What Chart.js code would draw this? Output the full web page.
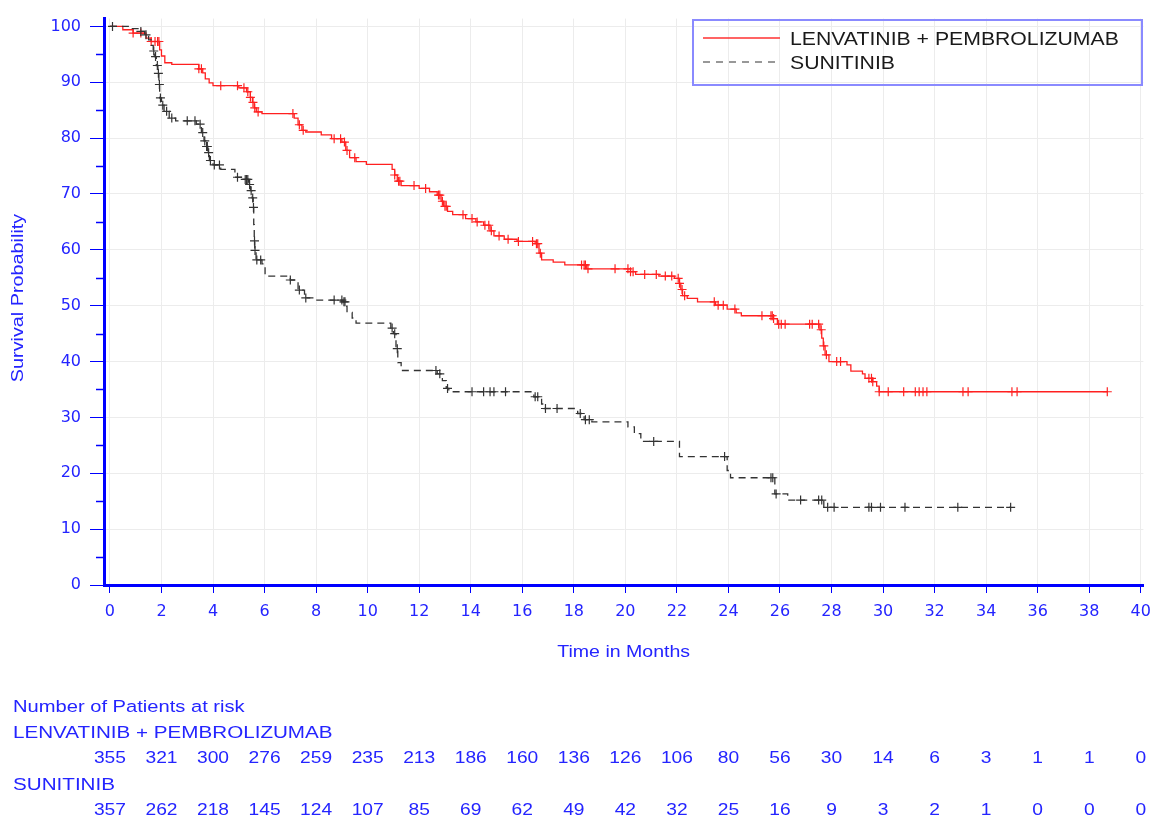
<!DOCTYPE html>
<html>
<head>
<meta charset="utf-8">
<script src="https://cdn.jsdelivr.net/npm/chart.js@4.4.0/dist/chart.umd.min.js"></script>
<style>
  html, body { margin: 0; padding: 0; background: #fff; }
  .chart-container { position: relative; width: 1160px; height: 820px; }
</style>
</head>
<body>
<div class="chart-container"><canvas id="km"></canvas></div>
<script>
// axis ticks
const xTickValues = [0, 2, 4, 6, 8, 10, 12, 14, 16, 18, 20, 22, 24, 26, 28, 30, 32, 34, 36, 38, 40];
const yTickValues = [0, 5, 10, 15, 20, 25, 30, 35, 40, 45, 50, 55, 60, 65, 70, 75, 80, 85, 90, 95, 100];

// LENVATINIB + PEMBROLIZUMAB: event times (months) and survival (%) after each step
const lenvTimes = [0, 0.5, 0.9, 1.4, 1.6, 1.93, 2.0, 2.13, 2.4, 3.45, 3.6, 3.7, 3.85, 4.0, 5.0, 5.3, 5.45, 5.53, 5.6, 5.68,
  5.9, 7.15, 7.3, 7.45, 7.6, 8.2, 8.6, 9.0, 9.15, 9.3, 9.55, 9.95, 10.95, 11.05, 11.15, 11.3, 12.0, 12.4, 12.7, 12.85,
  12.95, 13.1, 13.3, 13.8, 14.2, 14.5, 14.75, 14.9, 15.3, 15.8, 16.5, 16.65, 16.75, 17.2, 17.65, 18.5, 20.2, 20.4, 21.3, 21.9,
  22.1, 22.15, 22.22, 22.4, 22.8, 23.5, 23.95, 24.3, 24.5, 25.75, 25.9, 27.55, 27.62, 27.68, 27.75, 27.9, 28.6, 28.75, 29.2, 29.3,
  29.6, 29.75, 29.85, 38.7];
const lenvSurv = [100, 99.4, 98.8, 97.9, 97.3, 95.8, 94.7, 93.5, 93.2, 92.4, 91.7, 90.6, 89.9, 89.4, 89.0, 88.3, 87.3, 86.4, 85.4, 84.7,
  84.4, 83.6, 82.4, 81.4, 81.1, 80.6, 79.9, 79.3, 77.8, 76.5, 75.8, 75.3, 74.4, 73.4, 72.3, 71.5, 71.0, 70.4, 69.8, 68.7,
  67.8, 66.9, 66.3, 65.6, 65.0, 64.4, 63.4, 62.5, 61.9, 61.5, 61.1, 59.4, 58.2, 57.8, 57.3, 56.6, 56.1, 55.6, 55.3, 54.9,
  54.0, 52.9, 51.8, 51.3, 50.7, 50.1, 49.4, 48.7, 48.2, 47.7, 46.7, 45.7, 44.2, 42.8, 41.2, 40.0, 39.4, 38.3, 37.8, 37.0,
  36.4, 35.6, 34.6, 34.6];
const lenvCensor = [0.9, 1.2, 1.6, 1.75, 1.85, 1.9, 3.45, 3.55, 4.3, 4.95, 5.2, 5.35, 5.45, 5.55, 5.62, 5.75, 7.1, 7.35, 7.5, 8.7,
  8.95, 9.1, 9.2, 9.5, 11.05, 11.2, 11.25, 11.8, 12.25, 12.75, 12.8, 12.9, 13.0, 13.05, 13.7, 14.05, 14.25, 14.55, 14.7, 14.8,
  15.1, 15.45, 15.85, 16.4, 16.55, 16.6, 16.7, 18.3, 18.4, 18.45, 18.55, 19.6, 20.1, 20.2, 20.3, 20.75, 21.2, 21.55, 21.8, 22.05,
  22.1, 22.2, 22.3, 23.45, 23.6, 23.8, 24.25, 25.3, 25.65, 25.7, 25.75, 25.95, 26.05, 26.2, 27.15, 27.25, 27.5, 27.6, 27.7, 27.8,
  28.2, 28.35, 29.45, 29.55, 29.6, 29.85, 30.2, 30.8, 31.25, 31.4, 31.55, 31.7, 33.1, 33.3, 35.0, 35.2, 38.7];

// SUNITINIB
const sunTimes = [0, 0.8, 1.15, 1.35, 1.5, 1.6, 1.68, 1.74, 1.8, 1.86, 1.9, 1.93, 2.0, 2.1, 2.3, 2.55, 3.35, 3.55, 3.65, 3.72,
  3.8, 3.86, 4.0, 4.3, 4.85, 5.25, 5.38, 5.45, 5.52, 5.56, 5.58, 5.6, 5.62, 5.67, 5.9, 6.02, 7.0, 7.3, 7.55, 7.95,
  9.05, 9.15, 9.2, 9.4, 9.55, 10.9, 11.0, 11.1, 11.17, 11.3, 12.7, 12.9, 13.05, 13.15, 16.45, 16.75, 16.85, 18.15, 18.4, 18.7,
  20.1, 20.35, 20.6, 22.1, 23.95, 24.08, 25.8, 26.3, 27.7, 34.95];
const sunSurv = [100, 99.6, 99.1, 98.5, 97.6, 96.6, 95.6, 94.6, 93.0, 91.6, 89.6, 87.2, 85.9, 84.8, 83.6, 83.1, 82.5, 81.0, 79.5, 78.5,
  77.4, 76.0, 75.2, 74.4, 73.0, 72.6, 71.7, 70.6, 69.3, 67.6, 64.5, 61.6, 59.9, 58.2, 57.5, 55.3, 54.6, 52.8, 51.4, 51.0,
  50.7, 49.9, 48.8, 47.8, 46.9, 46.0, 45.0, 42.3, 39.8, 38.4, 37.8, 36.6, 35.2, 34.6, 33.7, 32.4, 31.6, 30.7, 29.6, 29.2,
  28.3, 27.1, 25.7, 23.0, 20.5, 19.2, 16.3, 15.2, 13.9, 13.9];
const sunCensor = [0.1, 1.2, 1.4, 1.7, 1.77, 1.84, 1.88, 1.92, 1.96, 2.05, 2.2, 2.4, 3.0, 3.3, 3.5, 3.6, 3.68, 3.75, 3.78, 3.83,
  3.9, 4.05, 4.25, 4.95, 5.25, 5.3, 5.35, 5.42, 5.48, 5.54, 5.57, 5.61, 5.63, 5.7, 5.85, 7.0, 7.35, 7.6, 8.7, 9.0,
  9.08, 9.12, 10.95, 11.05, 11.15, 12.65, 12.8, 13.1, 14.05, 14.5, 14.75, 14.9, 15.35, 16.5, 16.6, 16.9, 17.35, 18.25, 18.45, 18.6,
  21.1, 23.85, 25.65, 25.72, 25.85, 26.8, 27.5, 27.62, 27.85, 28.1, 29.45, 29.55, 29.9, 30.85, 32.9, 34.95];

// number of patients at risk
const riskTimes = [0, 2, 4, 6, 8, 10, 12, 14, 16, 18, 20, 22, 24, 26, 28, 30, 32, 34, 36, 38, 40];
const lenvAtRisk = [355, 321, 300, 276, 259, 235, 213, 186, 160, 136, 126, 106, 80, 56, 30, 14, 6, 3, 1, 1, 0];
const sunAtRisk = [357, 262, 218, 145, 124, 107, 85, 69, 62, 49, 42, 32, 25, 16, 9, 3, 2, 1, 0, 0, 0];

const lenvLabel = "LENVATINIB + PEMBROLIZUMAB";
const sunLabel = "SUNITINIB";

const BLUE = "#0000ff";
const TEXT_BLUE = "#2424ff";
const TICK_FONT = '"DejaVu Sans", Verdana, sans-serif';
const LABEL_FONT = '"Liberation Sans", Arial, sans-serif';
const STRETCH = 1.2; // labels are set a little wide

function survivalAt(times, surv, t) {
  let v = surv[0];
  for (let i = 0; i < times.length; i++) {
    if (times[i] <= t) v = surv[i];
    else break;
  }
  return v;
}

function stepPoints(times, surv) {
  return times.map((t, i) => ({ x: t, y: surv[i] }));
}

function censorPoints(censor, times, surv) {
  return censor.map((t) => ({ x: t, y: survivalAt(times, surv, t) }));
}

// draws text widened horizontally by STRETCH
function wideText(ctx, text, x, y, align, size) {
  ctx.save();
  ctx.font = size + "px " + LABEL_FONT;
  ctx.textBaseline = "middle";
  ctx.textAlign = "left";
  const w = ctx.measureText(text).width * STRETCH;
  const left = align === "center" ? x - w / 2 : align === "right" ? x - w : x;
  ctx.translate(left, y);
  ctx.scale(STRETCH, 1);
  ctx.fillText(text, 0, 0);
  ctx.restore();
}

// minor ticks, axis titles, risk table and legend box
const kmExtras = {
  id: "kmExtras",
  afterDraw(chart) {
    const ctx = chart.ctx;
    const xs = chart.scales.x;
    const ys = chart.scales.y;
    const area = chart.chartArea;
    ctx.save();

    ctx.strokeStyle = BLUE;
    ctx.lineWidth = 1.5;
    yTickValues.forEach((v) => {
      if (v % 10 === 0) return;
      const py = Math.round(ys.getPixelForValue(v)) + 0.5;
      ctx.beginPath();
      ctx.moveTo(area.left - 8, py);
      ctx.lineTo(area.left, py);
      ctx.stroke();
    });

    ctx.fillStyle = TEXT_BLUE;

    ctx.save();
    ctx.translate(18, 298);
    ctx.rotate(-Math.PI / 2);
    wideText(ctx, "Survival Probability", 0, 0, "center", 16.5);
    ctx.restore();

    wideText(ctx, "Time in Months", (area.left + area.right) / 2, 653, "center", 16.3);

    wideText(ctx, "Number of Patients at risk", 13, 707, "left", 16.8);
    wideText(ctx, lenvLabel, 13, 733, "left", 17.2);
    wideText(ctx, sunLabel, 13, 785, "left", 17.2);

    riskTimes.forEach((t, i) => {
      const px = xs.getPixelForValue(t);
      wideText(ctx, String(lenvAtRisk[i]), px, 759, "center", 16);
      wideText(ctx, String(sunAtRisk[i]), px, 811, "center", 16);
    });

    // legend
    ctx.strokeStyle = "#8a8aff";
    ctx.lineWidth = 2;
    ctx.strokeRect(693, 20, 449, 65);

    ctx.lineWidth = 1.5;
    ctx.strokeStyle = "#ff3030";
    ctx.beginPath();
    ctx.moveTo(703, 38);
    ctx.lineTo(780, 38);
    ctx.stroke();

    ctx.strokeStyle = "#777";
    ctx.setLineDash([7, 6]);
    ctx.beginPath();
    ctx.moveTo(703, 62);
    ctx.lineTo(780, 62);
    ctx.stroke();
    ctx.setLineDash([]);

    ctx.fillStyle = "#1a1a1a";
    wideText(ctx, lenvLabel, 790, 40, "left", 17.7);
    wideText(ctx, sunLabel, 790, 64, "left", 17.7);

    ctx.restore();
  },
};

new Chart(document.getElementById("km"), {
  type: "line",
  data: {
    datasets: [
      {
        label: sunLabel,
        data: stepPoints(sunTimes, sunSurv),
        stepped: "before",
        borderColor: "#333",
        borderWidth: 1.3,
        borderDash: [7, 5],
        pointRadius: 0,
        fill: false,
      },
      {
        label: sunLabel + " censored",
        data: censorPoints(sunCensor, sunTimes, sunSurv),
        showLine: false,
        pointStyle: "cross",
        pointRadius: 4.5,
        pointBorderWidth: 1.2,
        pointBorderColor: "#333",
      },
      {
        label: lenvLabel,
        data: stepPoints(lenvTimes, lenvSurv),
        stepped: "before",
        borderColor: "#ff2020",
        borderWidth: 1.3,
        pointRadius: 0,
        fill: false,
      },
      {
        label: lenvLabel + " censored",
        data: censorPoints(lenvCensor, lenvTimes, lenvSurv),
        showLine: false,
        pointStyle: "cross",
        pointRadius: 4.5,
        pointBorderWidth: 1.2,
        pointBorderColor: "#ff2020",
      },
    ],
  },
  options: {
    responsive: true,
    maintainAspectRatio: false,
    animation: false,
    layout: { padding: { top: 12, right: 13, left: 0, bottom: 0 } },
    plugins: {
      legend: { display: false },
      tooltip: { enabled: false },
    },
    scales: {
      x: {
        type: "linear",
        min: -0.23,
        max: 40.1,
        afterBuildTicks: (scale) => {
          scale.ticks = xTickValues.map((v) => ({ value: v }));
        },
        afterFit: (scale) => {
          scale.height = 235;
        },
        ticks: {
          color: TEXT_BLUE,
          padding: 9,
          maxRotation: 0,
          autoSkip: false,
          font: { size: 16, family: TICK_FONT },
        },
        grid: {
          color: "#ececec",
          tickColor: BLUE,
          tickLength: 8,
          lineWidth: 1,
        },
        border: { color: BLUE, width: 3 },
      },
      y: {
        type: "linear",
        min: 0,
        max: 101.4,
        afterBuildTicks: (scale) => {
          scale.ticks = yTickValues.map((v) => ({ value: v }));
        },
        afterFit: (scale) => {
          scale.width = 104;
        },
        ticks: {
          color: TEXT_BLUE,
          padding: 9,
          autoSkip: false,
          callback: (v) => (v % 10 === 0 ? String(v) : ""),
          font: { size: 16, family: TICK_FONT },
        },
        grid: {
          color: (c) => (c.tick && c.tick.value % 10 === 0 && c.tick.value > 0 ? "#ececec" : "rgba(0,0,0,0)"),
          tickColor: (c) => (c.tick && c.tick.value % 10 === 0 ? BLUE : "rgba(0,0,0,0)"),
          tickLength: 14,
          lineWidth: 1,
        },
        border: { color: BLUE, width: 3 },
      },
    },
  },
  plugins: [kmExtras],
});
</script>
</body>
</html>
